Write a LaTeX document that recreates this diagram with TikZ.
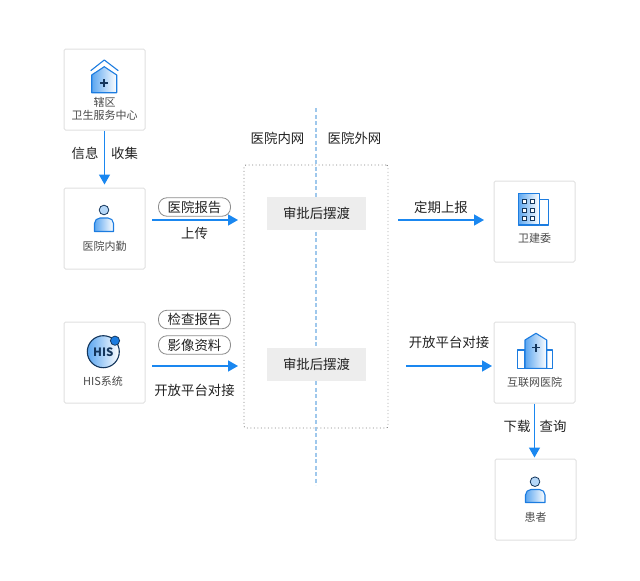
\documentclass[tikz,border=0pt]{standalone}
\usepackage{fontspec}
\setmainfont{Noto Sans CJK SC}
\usetikzlibrary{arrows.meta}

\definecolor{flowblue}{HTML}{1A87F0}
\definecolor{iconblue}{HTML}{1C7CE0}
\definecolor{iconfill}{HTML}{5BA6F0}
\definecolor{iconink}{HTML}{14365C}
\definecolor{cardline}{HTML}{E0E0E0}
\definecolor{gateline}{HTML}{EDEDED}
\definecolor{textgrey}{HTML}{4A4A4A}
\definecolor{textdark}{HTML}{222222}
\definecolor{splitline}{HTML}{9FC8EC}

\tikzset{
  card/.style={draw=cardline, fill=white, line width=1pt, rounded corners=1.5pt, minimum width=81pt, minimum height=81pt, inner sep=0pt},
  cardtext/.style={text=textgrey, font=\fontsize{11}{13.5}\selectfont, align=center, inner sep=0pt},
  flowtext/.style={text=textdark, font=\fontsize{13.4}{16}\selectfont, inner sep=0pt},
  pill/.style={draw=black!45, fill=white, line width=.8pt, rounded corners=8.5pt, minimum width=72pt, minimum height=18.5pt, inner sep=0pt, text=textdark, font=\fontsize{13.4}{16}\selectfont},
  gate/.style={fill=gateline, minimum width=99pt, minimum height=33pt, inner sep=0pt, text=textdark, font=\fontsize{13.4}{16}\selectfont},
  flow/.style={draw=flowblue, line width=1.5pt, -{Triangle[length=10pt,width=11pt]}},
  iconshape/.style={draw=iconblue, line width=1.1pt, line join=round, left color=iconfill, right color=white},
  iconplain/.style={draw=iconblue, line width=1.1pt, line join=round, fill=white},
}

\begin{document}
\begin{tikzpicture}[x=1pt,y=-1pt]

      \useasboundingbox (0,0) rectangle (640,581);

      % network split and the ferry zone
      \node[draw=textgrey!70, line width=.9pt, dash pattern=on .9pt off 2.6pt, rounded corners=2pt, minimum width=144pt, minimum height=263pt, inner sep=0pt] (zone) at (316,296.5) {};
      \coordinate (splittop) at (316,108);
      \coordinate (splitbot) at (316,485);
      \draw[draw=splitline, line width=1.2pt, dash pattern=on 4pt off 2.5pt] (splittop) -- (splitbot);

      \node[flowtext] (intranet) at (277.5,138) {医院内网};
      \node[flowtext] (extranet) at (354.5,138) {医院外网};
      \node[gate] (gateup) at (316.5,213.5) {审批后摆渡};
      \node[gate] (gatedown) at (316.5,364.5) {审批后摆渡};

      % cards
      \node[card] (center) at (104.5,89.5) {};
      \node[card] (staff) at (104.5,228.5) {};
      \node[card] (his) at (104.5,362.5) {};
      \node[card] (commission) at (534.5,221.5) {};
      \node[card] (online) at (534.5,362.5) {};
      \node[card] (patient) at (535.5,499.5) {};

      \node[cardtext] (centertext) at (104.5,109) {辖区\\卫生服务中心};
      \node[cardtext] (stafftext) at (104.5,246) {医院内勤};
      \node[cardtext] (histext) at (103,381) {HIS系统};
      \node[cardtext] (commissiontext) at (534.5,238.5) {卫建委};
      \node[cardtext] (onlinetext) at (534.5,382) {互联网医院};
      \node[cardtext] (patienttext) at (535.5,517) {患者};

      % house
      \draw[iconblue, line width=1.1pt, line join=round] (90.7,70.7) -- (104.3,60) -- (118.3,70.7);
      \draw[iconshape] (91.7,75) -- (104.3,66.7) -- (116.7,75) -- (116.7,92.7) -- (91.7,92.7) -- cycle;
      \draw[iconink, line width=1.1pt] (100,83) -- (108,83) (104,79) -- (104,87);

      % staff
      \draw[iconink, line width=.8pt, fill=iconfill!45] (104,210) circle (4.8);
      \draw[iconshape] (94.5,231.5) -- (94.5,223.5) arc[start angle=180, end angle=270, radius=5.5] -- (108,218) arc[start angle=270, end angle=360, radius=5.5] -- (113.5,231.5) -- cycle;

      % his
      \draw[iconink, line width=1.1pt, left color=iconfill, right color=white] (103.3,351.7) circle (16);
      \node[text=iconink, font=\fontsize{11.5}{13}\selectfont\bfseries, inner sep=0pt] (hislogo) at (103.3,352) {HIS};
      \draw[iconink, line width=.8pt, fill=iconblue] (115,340.7) circle (4.6);

      % commission
      \draw[iconplain] (539.3,199.3) rectangle (548.3,225);
      \draw[iconshape] (518.3,193.3) rectangle (539.3,225);
      \foreach \ypos in {199.5,208,216.5} {
        \draw[iconink, line width=1pt, fill=white] (522.5,\ypos) rectangle +(4,4);
        \draw[iconink, line width=1pt, fill=white] (530.5,\ypos) rectangle +(4,4);
      }

      % online hospital
      \draw[iconplain] (517.3,350) rectangle (525,368.3);
      \draw[iconplain] (546.7,350) rectangle (552.7,368.3);
      \draw[iconshape] (525,368.3) -- (525,340) -- (536,333.3) -- (546.7,340) -- (546.7,368.3) -- cycle;
      \draw[iconink, line width=1.1pt] (532,347.7) -- (540,347.7) (536,343.7) -- (536,351.7);

      % patient
      \draw[iconink, line width=.8pt, fill=iconfill!45] (535,481.7) circle (4.8);
      \draw[iconshape] (525.5,502.5) -- (525.5,495) arc[start angle=180, end angle=270, radius=5.5] -- (539.5,489.5) arc[start angle=270, end angle=360, radius=5.5] -- (545,502.5) -- cycle;

      % flows
      \coordinate (up1) at (152,220);
      \coordinate (up2) at (238,220);
      \coordinate (report1) at (398,220);
      \coordinate (report2) at (484,220);
      \coordinate (his1) at (152,366);
      \coordinate (his2) at (238,366);
      \coordinate (dock1) at (406,366);
      \coordinate (dock2) at (492,366);

      \draw[flow, shorten >=3pt] (center) -- (staff);
      \draw[flow] (up1) -- (up2);
      \draw[flow] (report1) -- (report2);
      \draw[flow] (his1) -- (his2);
      \draw[flow] (dock1) -- (dock2);
      \draw[flow, shorten >=1pt] (online.south) -- (online.south |- patient.north);

      % flow labels
      \node[flowtext] (collect1) at (85,153) {信息};
      \node[flowtext] (collect2) at (124.5,153) {收集};
      \node[pill] (pillreport) at (194.5,207) {医院报告};
      \node[flowtext] (upload) at (194.5,233) {上传};
      \node[flowtext] (regular) at (441,207) {定期上报};
      \node[pill] (pillcheck) at (194.5,319.5) {检查报告};
      \node[pill] (pillimage) at (194.5,345) {影像资料};
      \node[flowtext] (dockleft) at (194.5,390) {开放平台对接};
      \node[flowtext] (dockright) at (449,342) {开放平台对接};
      \node[flowtext] (download) at (517,426) {下载};
      \node[flowtext] (query) at (553,426) {查询};

    \end{tikzpicture}
\end{document}
